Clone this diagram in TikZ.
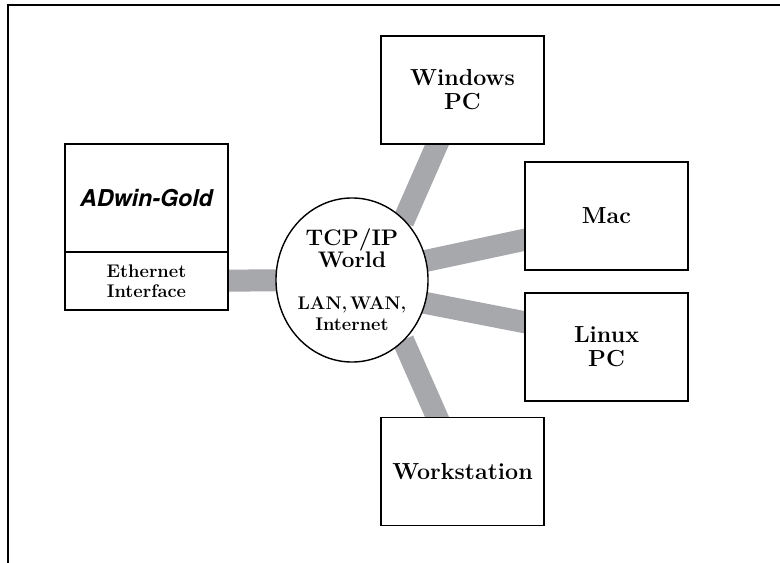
\documentclass[tikz,border=0pt]{standalone}
\usepackage{fontspec}
\setsansfont{TeX Gyre Heros}
\usetikzlibrary{positioning, shapes.geometric, calc, backgrounds}
\definecolor{linkgray}{RGB}{167,168,171}
\newcommand{\netsmall}{\fontsize{13}{14}\selectfont\bfseries}

\begin{document}
\begin{tikzpicture}[
        x=0.025cm, y=-0.025cm,
        big/.style={font=\fontsize{16.5}{17}\selectfont\bfseries},
        small/.style={font=\fontsize{13}{14}\selectfont\bfseries},
        pc_box/.style={draw, line width=1.2pt, fill=white, align=center, minimum width=4.075cm, minimum height=2.7cm, big},
        world/.style={draw, ellipse, line width=1pt, fill=white, align=center, minimum width=3.8cm, minimum height=4.1cm, inner sep=-8pt, font=\fontsize{16}{15.5}\selectfont\bfseries},
        link/.style={draw=linkgray, line width=0.55cm}
    ]
    \useasboundingbox (0,0) rectangle (780,563);

    % ========================================================
    % 1. RAHMEN
    % ========================================================
    \draw[line width=1.4pt] (8,563) -- (8,5) -- (780,5);

    % ========================================================
    % 2. ADWIN (LINKS)
    % ========================================================
    \node[pc_box, font=\fontsize{16.5}{17}\selectfont\sffamily\bfseries\itshape] (adwin) at (146.5,198) {ADwin-Gold};
    \node[pc_box, small, minimum height=1.45cm] (eth) at (146.5,281) {Ethernet\\Interface};

    % ========================================================
    % 3. NETZ (MITTE)
    % ========================================================
    \node[world] (tcp) at (352,280) {TCP/IP\\World\\[14pt]\netsmall LAN,\hspace{0.15em}WAN,\\\netsmall Internet};

    % ========================================================
    % 4. RECHNER (RECHTS)
    % ========================================================
    \node[pc_box] (win) at (462.5,90) {Windows\\PC};
    \node[pc_box] (mac) at (606.5,216) {Mac};
    \node[pc_box] (linux) at (606.5,347) {Linux\\PC};
    \node[pc_box] (ws) at (462.5,471.5) {Workstation};

    % Verbindungen
    \begin{scope}[on background layer]
        \draw[link] (eth.center) -- (tcp.center);
        \draw[link] ($(win.south)+(-15,-24)$) -- ($(tcp.center)+(51,-58)$);
        \draw[link] ($(tcp.center)+(48,-13.6)$) -- ($(mac.west)+(25,18.5)$);
        \draw[link] ($(tcp.center)+(48,18)$) -- ($(linux.west)+(25,-20)$);
        \draw[link] ($(tcp.center)+(51,60)$) -- ($(ws.north)+(-15.5,23)$);
    \end{scope}

\end{tikzpicture}
\end{document}
